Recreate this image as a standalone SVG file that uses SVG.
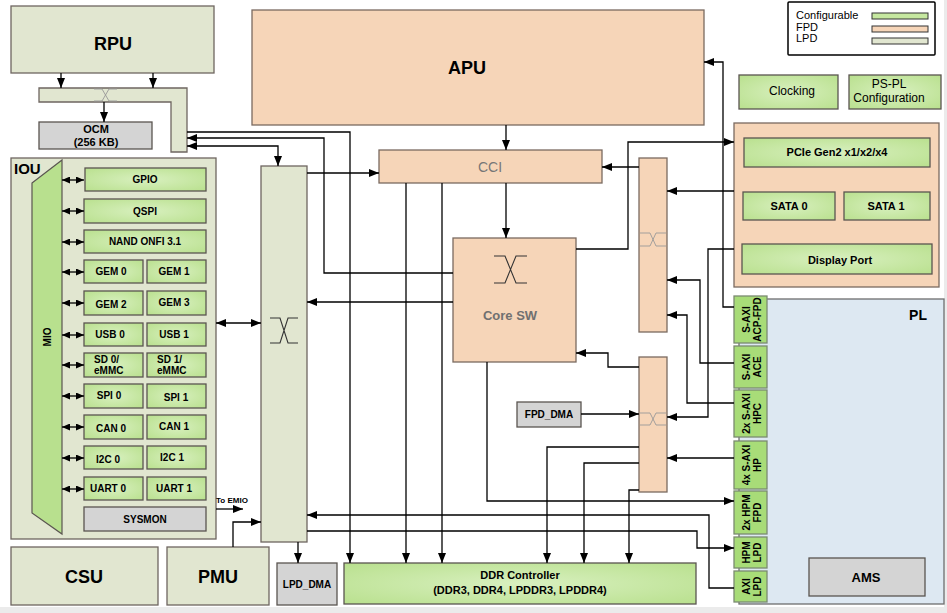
<svg xmlns="http://www.w3.org/2000/svg" width="947" height="613" viewBox="0 0 947 613">
<defs>
  <radialGradient id="cfg" cx="50%" cy="50%" r="70%">
    <stop offset="0" stop-color="#d8f0bf"/>
    <stop offset="1" stop-color="#b9e08e"/>
  </radialGradient>
  <marker id="ah" viewBox="0 0 10 8" refX="10" refY="4" markerWidth="10" markerHeight="8" markerUnits="userSpaceOnUse" orient="auto-start-reverse">
    <path d="M0,0 L10,4 L0,8 z" fill="#000"/>
  </marker>
  <marker id="sh" viewBox="0 0 8 7" refX="8" refY="3.5" markerWidth="8" markerHeight="7" markerUnits="userSpaceOnUse" orient="auto-start-reverse">
    <path d="M0,0 L8,3.5 L0,7 z" fill="#000"/>
  </marker>
  <style>
    .lpd{fill:#e1e6d0;stroke:#6e6660;stroke-width:1.3}
    .fpd{fill:#f6d5b8;stroke:#7a6a60;stroke-width:1.3}
    .cfg{fill:url(#cfg);stroke:#5a5550;stroke-width:1.3}
    .port{fill:#a8dc78;stroke:#7a8a70;stroke-width:1.3}
    .gry{fill:#d4d4d4;stroke:#5a5550;stroke-width:1.3}
    .pl{fill:#dde8f2;stroke:#6e6e6e;stroke-width:1.3}
    .xb{fill:none;stroke:#333;stroke-width:1.1}
    .xbl{fill:none;stroke:#999;stroke-width:0.9}
    .c{fill:none;stroke:#000;stroke-width:1.3}
    .t{font-family:"Liberation Sans",Arial,sans-serif;font-weight:bold;fill:#000;text-anchor:middle}
    .big{font-size:18px}
    .s{font-size:10px}
    .m{font-size:11px}
    .n{font-family:"Liberation Sans",Arial,sans-serif;font-weight:normal;fill:#000}
  </style>
</defs>
<rect x="0" y="0" width="947" height="613" fill="#fff"/>
<rect x="0" y="607" width="947" height="6" fill="#ebebeb"/>
<rect x="944" y="0" width="3" height="613" fill="#ebebeb"/>

<g id="legend">
  <rect x="788" y="2" width="147" height="53" fill="#fff" stroke="#000" stroke-width="1.5" rx="1"/>
  <text class="n" x="796" y="19" font-size="11">Configurable</text>
  <text class="n" x="796" y="31" font-size="11">FPD</text>
  <text class="n" x="796" y="42" font-size="11">LPD</text>
  <rect x="872" y="13" width="56" height="6" fill="#c6e8a0" stroke="#333" stroke-width="1"/>
  <rect x="872" y="26" width="56" height="6" fill="#f6d5b8" stroke="#333" stroke-width="1"/>
  <rect x="872" y="38" width="56" height="6" fill="#e1e6d0" stroke="#333" stroke-width="1"/>
</g>

<g id="rpu"><rect class="lpd" x="11" y="6" width="203" height="67"/><text class="t big" x="113" y="50">RPU</text></g>
<g id="ocm-switch">
  <path class="lpd" d="M39,88 H187 V152 H171 V102 H39 Z"/>
  <path class="xbl" d="M94,89 H102 L109,101 H117 M117,89 H109 L102,101 H94"/>
</g>
<g id="ocm"><rect class="gry" x="39" y="122" width="113" height="27"/><text class="t m" x="96" y="133">OCM</text><text class="t m" x="96" y="146">(256 KB)</text></g>

<g id="apu"><rect class="fpd" x="252" y="10" width="452" height="115"/><text class="t big" x="467" y="74">APU</text></g>
<g id="cci"><rect class="fpd" x="379" y="150" width="223" height="33"/><text x="490" y="172" font-family="Liberation Sans,Arial,sans-serif" font-size="14" fill="#777" text-anchor="middle">CCI</text></g>
<g id="coresw"><rect class="fpd" x="453" y="238" width="123" height="124"/>
  <path class="xb" d="M494,256 H505 L516,283 H527 M527,256 H516 L505,283 H494"/>
  <text x="510" y="320" font-family="Liberation Sans,Arial,sans-serif" font-weight="bold" font-size="13" fill="#707070" text-anchor="middle">Core SW</text></g>
<g id="lpd-switch"><rect class="lpd" x="261" y="166" width="46" height="376"/>
  <path class="xb" d="M270,318 H280 L288,343 H298 M298,318 H288 L280,343 H270"/></g>
<g id="fpd-switch-upper"><rect class="fpd" x="639" y="158" width="28" height="174"/>
  <path class="xbl" d="M640,233 H650 L656,246 H666 M666,233 H656 L650,246 H640"/></g>
<g id="fpd-switch-lower"><rect class="fpd" x="639" y="357" width="28" height="135"/>
  <path class="xbl" d="M640,413 H650 L656,425 H666 M666,413 H656 L650,425 H640"/></g>
<g id="fpd_dma"><rect class="gry" x="517" y="402" width="64" height="25"/><text class="t s" x="549" y="418">FPD_DMA</text></g>
<g id="lpd_dma"><rect class="gry" x="277" y="563" width="60" height="42"/><text class="t s" x="307" y="588">LPD_DMA</text></g>
<g id="ddr"><rect class="cfg" x="344" y="563" width="352" height="41"/><text class="t m" x="520" y="579">DDR Controller</text><text class="t m" x="520" y="594">(DDR3, DDR4, LPDDR3, LPDDR4)</text></g>
<g id="csu"><rect class="lpd" x="11" y="547" width="147" height="58"/><text class="t big" x="84" y="583">CSU</text></g>
<g id="pmu"><rect class="lpd" x="167" y="547" width="102" height="58"/><text class="t big" x="218" y="583">PMU</text></g>

<g id="iou">
  <rect class="lpd" x="11" y="158" width="205" height="381"/>
  <text class="t" x="14" y="174" font-size="15" text-anchor="start" style="text-anchor:start">IOU</text>
  <polygon points="32,183 62,160 62,534 32,513" fill="#b8e08e" stroke="#5a5550" stroke-width="1.2"/>
  <text class="t s" transform="translate(51,337) rotate(-90)">MIO</text>
  <rect class="cfg" x="85" y="168" width="121" height="23"/><text class="t s" x="145" y="183">GPIO</text>
  <rect class="cfg" x="84" y="199" width="122" height="24"/><text class="t s" x="145" y="215">QSPI</text>
  <rect class="cfg" x="84" y="230" width="122" height="23"/><text class="t s" x="145" y="245">NAND ONFI 3.1</text>
  <rect class="cfg" x="84" y="260" width="59" height="23"/><text class="t s" x="111" y="275">GEM 0</text>
  <rect class="cfg" x="147" y="260" width="59" height="23"/><text class="t s" x="174" y="275">GEM 1</text>
  <rect class="cfg" x="84" y="291" width="59" height="24"/><text class="t s" x="111" y="308">GEM 2</text>
  <rect class="cfg" x="147" y="291" width="59" height="24"/><text class="t s" x="174" y="306">GEM 3</text>
  <rect class="cfg" x="84" y="323" width="59" height="23"/><text class="t s" x="110" y="338">USB 0</text>
  <rect class="cfg" x="147" y="323" width="59" height="23"/><text class="t s" x="174" y="338">USB 1</text>
  <rect class="cfg" x="84" y="353" width="59" height="24"/><text class="t s" x="94" y="363" style="text-anchor:start">SD 0/</text><text class="t s" x="94" y="374" style="text-anchor:start">eMMC</text>
  <rect class="cfg" x="147" y="353" width="59" height="24"/><text class="t s" x="157" y="363" style="text-anchor:start">SD 1/</text><text class="t s" x="157" y="374" style="text-anchor:start">eMMC</text>
  <rect class="cfg" x="84" y="384" width="59" height="24"/><text class="t s" x="109" y="399">SPI 0</text>
  <rect class="cfg" x="147" y="384" width="59" height="24"/><text class="t s" x="176" y="401">SPI 1</text>
  <rect class="cfg" x="84" y="415" width="59" height="24"/><text class="t s" x="111" y="432">CAN 0</text>
  <rect class="cfg" x="147" y="415" width="59" height="24"/><text class="t s" x="174" y="430">CAN 1</text>
  <rect class="cfg" x="84" y="446" width="59" height="23"/><text class="t s" x="108" y="463">I2C 0</text>
  <rect class="cfg" x="147" y="446" width="59" height="23"/><text class="t s" x="172" y="461">I2C 1</text>
  <rect class="cfg" x="84" y="477" width="59" height="23"/><text class="t s" x="108" y="492">UART 0</text>
  <rect class="cfg" x="147" y="477" width="59" height="23"/><text class="t s" x="174" y="492">UART 1</text>
  <rect class="gry" x="84" y="507" width="122" height="24"/><text class="t s" x="145" y="523">SYSMON</text>
</g>

<g id="clocking"><rect class="cfg" x="739" y="75" width="99" height="34"/><text class="n" x="792" y="95" font-size="12" text-anchor="middle">Clocking</text></g>
<g id="pspl"><rect class="cfg" x="849" y="75" width="92" height="34"/><text class="n" x="889" y="88" font-size="12" text-anchor="middle">PS-PL</text><text class="n" x="889" y="102" font-size="12" text-anchor="middle">Configuration</text></g>

<g id="fpd-periph">
  <rect class="fpd" x="734" y="123" width="205" height="164"/>
  <rect class="cfg" x="744" y="138" width="186" height="29"/><text class="t m" x="837" y="156">PCIe Gen2 x1/x2/x4</text>
  <rect class="cfg" x="743" y="192" width="92" height="28"/><text class="t m" x="789" y="210">SATA 0</text>
  <rect class="cfg" x="844" y="192" width="86" height="28"/><text class="t m" x="886" y="210">SATA 1</text>
  <rect class="cfg" x="742" y="244" width="190" height="30"/><text class="t m" x="840" y="264">Display Port</text>
</g>

<g id="pl">
  <rect class="pl" x="739" y="299" width="205" height="305"/>
  <text class="t" x="918" y="320" font-size="14">PL</text>
  <rect class="gry" x="809" y="558" width="116" height="38"/><text class="t" x="866" y="582" font-size="13">AMS</text>
</g>
<g id="ports">
  <rect class="port" x="734" y="296" width="33" height="47"/><text class="t s" transform="translate(750.5,319.5) rotate(-90)"><tspan x="0" y="-1">S-AXI</tspan><tspan x="0" y="10">ACP-FPD</tspan></text>
  <rect class="port" x="734" y="346" width="33" height="42"/><text class="t s" transform="translate(750.5,367) rotate(-90)"><tspan x="0" y="-1">S-AXI</tspan><tspan x="0" y="10">ACE</tspan></text>
  <rect class="port" x="734" y="390" width="33" height="47"/><text class="t s" transform="translate(750.5,413.5) rotate(-90)"><tspan x="0" y="-1">2x S-AXI</tspan><tspan x="0" y="10">HPC</tspan></text>
  <rect class="port" x="734" y="441" width="33" height="48"/><text class="t s" transform="translate(750.5,465) rotate(-90)"><tspan x="0" y="-1">4x S-AXI</tspan><tspan x="0" y="10">HP</tspan></text>
  <rect class="port" x="734" y="491" width="33" height="43"/><text class="t s" transform="translate(750.5,512.5) rotate(-90)"><tspan x="0" y="-1">2x HPM</tspan><tspan x="0" y="10">FPD</tspan></text>
  <rect class="port" x="734" y="537" width="33" height="31"/><text class="t s" transform="translate(750.5,552.5) rotate(-90)"><tspan x="0" y="-1">HPM</tspan><tspan x="0" y="10">LPD</tspan></text>
  <rect class="port" x="734" y="571" width="33" height="31"/><text class="t s" transform="translate(750.5,586.5) rotate(-90)"><tspan x="0" y="-1">AXI</tspan><tspan x="0" y="10">LPD</tspan></text>
</g>

<text class="t" x="216" y="503" font-size="8" style="text-anchor:start">To EMIO</text>

<g id="connectors">
  <path class="c" d="M61,73 V88" marker-end="url(#ah)"/>
  <path class="c" d="M153,73 V88" marker-end="url(#ah)"/>
  <path class="c" d="M104,102 V122" marker-end="url(#ah)"/>
  <path class="c" d="M187,132 H350 V563" marker-end="url(#ah)"/>
  <path class="c" d="M453,273 H324 V138 H187" marker-end="url(#ah)"/>
  <path class="c" d="M187,146 H278 V166" marker-start="url(#ah)" marker-end="url(#ah)"/>
  <path class="c" d="M506,125 V150" marker-end="url(#ah)"/>
  <path class="c" d="M307,173 H379" marker-end="url(#ah)"/>
  <path class="c" d="M406,183 V563" marker-end="url(#ah)"/>
  <path class="c" d="M442,183 V563" marker-end="url(#ah)"/>
  <path class="c" d="M506,183 V238" marker-end="url(#ah)"/>
  <path class="c" d="M453,302 H307" marker-end="url(#ah)"/>
  <path class="c" d="M216,323 H261" marker-start="url(#ah)" marker-end="url(#ah)"/>
  <path class="c" d="M576,249 H628 V142 H734" marker-end="url(#ah)"/>
  <path class="c" d="M639,167 H602" marker-end="url(#ah)"/>
  <path class="c" d="M734,191 H667" marker-end="url(#ah)"/>
  <path class="c" d="M734,249 H708 V417 H667" marker-end="url(#ah)"/>
  <path class="c" d="M734,363 H700 V280 H667" marker-end="url(#ah)"/>
  <path class="c" d="M734,403 H687 V315 H667" marker-end="url(#ah)"/>
  <path class="c" d="M734,307 H723 V62 H704" marker-end="url(#ah)"/>
  <path class="c" d="M639,367 H608 V353 H576" marker-end="url(#ah)"/>
  <path class="c" d="M581,414 H639" marker-end="url(#ah)"/>
  <path class="c" d="M734,458 H667" marker-end="url(#ah)"/>
  <path class="c" d="M639,447 H547 V563" marker-end="url(#ah)"/>
  <path class="c" d="M639,463 H584 V563" marker-end="url(#ah)"/>
  <path class="c" d="M639,490 H629 V563" marker-end="url(#ah)"/>
  <path class="c" d="M487,362 V501 H734" marker-end="url(#ah)"/>
  <path class="c" d="M734,588 H709 V515 H307" marker-end="url(#ah)"/>
  <path class="c" d="M307,531 H697 V548 H734" marker-end="url(#ah)"/>
  <path class="c" d="M233,547 V522 H261" marker-end="url(#ah)"/>
  <path class="c" d="M216,509 H243" marker-end="url(#ah)"/>
  <path class="c" d="M298,542 V563" marker-end="url(#ah)"/>
  <g marker-start="url(#sh)" marker-end="url(#sh)">
    <path class="c" d="M62,180 H84"/>
    <path class="c" d="M62,211 H84"/>
    <path class="c" d="M62,242 H84"/>
    <path class="c" d="M62,272 H84"/>
    <path class="c" d="M62,303 H84"/>
    <path class="c" d="M62,335 H84"/>
    <path class="c" d="M62,365 H84"/>
    <path class="c" d="M62,396 H84"/>
    <path class="c" d="M62,427 H84"/>
    <path class="c" d="M62,458 H84"/>
    <path class="c" d="M62,489 H84"/>
  </g>
</g>
</svg>
